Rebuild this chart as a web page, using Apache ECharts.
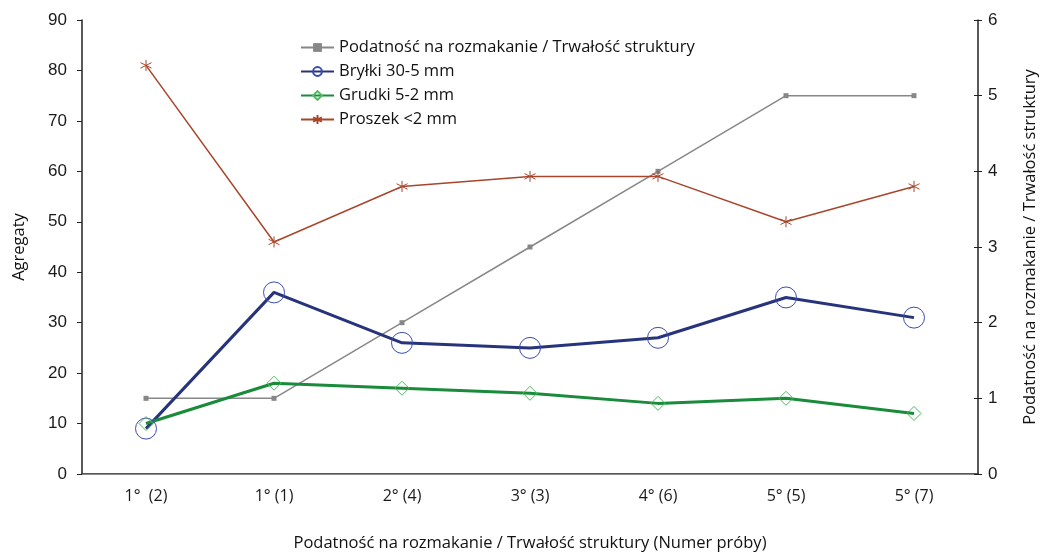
<!DOCTYPE html>
<html><head><meta charset="utf-8">
<script src="https://cdn.jsdelivr.net/npm/echarts@6/dist/echarts.min.js"></script>
<style>html,body{margin:0;padding:0;background:#fff}#c{width:1040px;height:552px}</style>
</head><body><div id="c"></div>
<script>
const categories = ['1°  (2)', '1° (1)', '2° (4)', '3° (3)', '4° (6)', '5° (5)', '5° (7)'];
const podatnosc = [1, 1, 2, 3, 4, 5, 5];
const brylki = [9, 36, 26, 25, 27, 35, 31];
const grudki = [10, 18, 17, 16, 14, 15, 12];
const proszek = [81, 46, 57, 59, 59, 50, 57];
const names = ['Podatność na rozmakanie / Trwałość struktury', 'Bryłki 30-5 mm', 'Grudki 5-2 mm', 'Proszek <2 mm'];

const tickFont = {fontFamily: '"Liberation Sans", Arial, sans-serif', fontSize: 17, color: '#1a1a1a'};
const xTickFont = {fontFamily: '"Open Sans", "Noto Sans", sans-serif', fontSize: 16, color: '#1a1a1a'};
const titleFont = {fontFamily: '"Open Sans", "Noto Sans", sans-serif', fontSize: 16.5, color: '#111'};
const star = 'path://M0,-10L0,10M-8.66,-5L8.66,5M-8.66,5L8.66,-5';

const chart = echarts.init(document.getElementById('c'));
chart.setOption({
  animation: false,
  grid: {left: 82, right: 62, top: 20, bottom: 78, containLabel: false, outerBoundsMode: 'none'},
  legend: {
    orient: 'vertical', left: 295, top: 34, padding: 5, itemGap: 7, itemWidth: 33, itemHeight: 11,
    textStyle: {fontFamily: '"Open Sans", "Noto Sans", sans-serif', fontSize: 16.5, color: '#111'},
    data: names
  },
  xAxis: [{
    type: 'category', data: categories, boundaryGap: true,
    axisLine: {lineStyle: {color: '#222', width: 1.5}},
    axisTick: {show: false},
    axisLabel: Object.assign({margin: 14}, xTickFont),
    name: 'Podatność na rozmakanie / Trwałość struktury (Numer próby)',
    nameLocation: 'middle', nameGap: 61, nameTextStyle: titleFont
  }, {
    type: 'category', data: categories, position: 'top',
    axisLine: {lineStyle: {color: '#8a8a8a', width: 1}},
    axisTick: {show: false}, axisLabel: {show: false}
  }],
  yAxis: [{
    type: 'value', min: 0, max: 90, interval: 10, position: 'left',
    axisLine: {show: true, lineStyle: {color: '#222', width: 1.5}},
    axisTick: {show: true, length: 5, lineStyle: {color: '#222'}},
    splitLine: {show: false},
    axisLabel: Object.assign({margin: 15}, tickFont),
    name: 'Agregaty', nameLocation: 'middle', nameGap: 54, nameRotate: 90, nameTextStyle: titleFont
  }, {
    type: 'value', min: 0, max: 6, interval: 1, position: 'right',
    axisLine: {show: true, lineStyle: {color: '#222', width: 1.5}},
    axisTick: {show: true, length: 4, lineStyle: {color: '#222'}},
    splitLine: {show: false},
    axisLabel: Object.assign({margin: 10}, tickFont),
    name: 'Podatność na rozmakanie / Trwałość struktury', nameLocation: 'middle', nameGap: 44, nameRotate: 90,
    nameTextStyle: titleFont
  }, {
    type: 'value', min: 0, max: 6, interval: 1, position: 'right',
    axisLine: {show: false},
    axisTick: {show: true, inside: true, length: 4, lineStyle: {color: '#222'}},
    axisLabel: {show: false}, splitLine: {show: false}
  }],
  series: [{
    name: names[0], type: 'line', yAxisIndex: 1, data: podatnosc,
    symbol: 'rect', symbolSize: 5,
    lineStyle: {color: '#878787', width: 1.5}, itemStyle: {color: '#878787'}
  }, {
    name: names[1], type: 'line', yAxisIndex: 0, data: brylki,
    symbol: 'circle', symbolSize: 21,
    lineStyle: {color: '#27347c', width: 3},
    itemStyle: {color: 'rgba(255,255,255,0)', borderColor: '#3a4bb0', borderWidth: 1}
  }, {
    name: names[2], type: 'line', yAxisIndex: 0, data: grudki,
    symbol: 'diamond', symbolSize: 14,
    lineStyle: {color: '#1a8b3a', width: 3},
    itemStyle: {color: 'rgba(255,255,255,0)', borderColor: '#4dba5e', borderWidth: 1}
  }, {
    name: names[3], type: 'line', yAxisIndex: 0, data: proszek,
    symbol: star, symbolSize: 11,
    lineStyle: {color: '#a8452a', width: 1.5},
    itemStyle: {color: 'rgba(0,0,0,0)', borderColor: '#a8452a', borderWidth: 1}
  }]
});
</script></body></html>
